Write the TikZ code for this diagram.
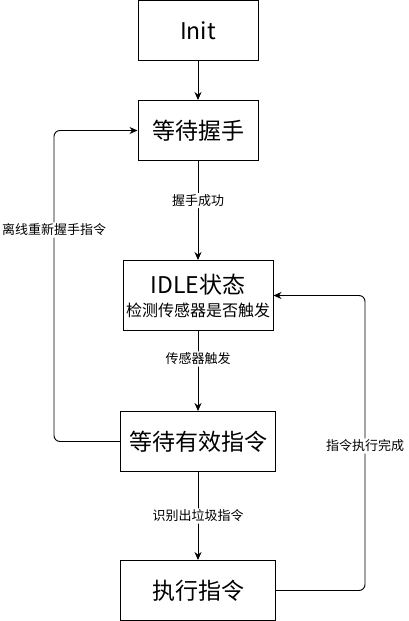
\documentclass[tikz,border=0pt]{standalone}
\usepackage{fontspec}
\setmainfont{Noto Sans CJK SC}
\usetikzlibrary{positioning,arrows.meta}

\tikzset{
  state/.style={draw, line width=1pt, minimum width=120pt, minimum height=60pt,
    inner sep=0pt, align=center, font=\fontsize{23}{27}\selectfont},
  lbl/.style={fill=white, inner sep=1.5pt, font=\fontsize{13}{15}\selectfont},
  flow/.style={-{Stealth[length=8pt,width=7pt]}, line width=0.9pt, rounded corners=6pt},
}

\begin{document}
\begin{tikzpicture}
        \useasboundingbox (0,0) rectangle (409pt,-621pt);

        \node[state] (init) at (198pt,-30.5pt) {Init};
        \node[state, below=39pt of init] (wait) {等待握手};
        \node[state, minimum width=150pt, minimum height=70pt, below=99pt of wait] (idle)
          {IDLE状态\\[-4pt]{\fontsize{16}{19}\selectfont 检测传感器是否触发}};
        \node[state, minimum width=155pt, below=80pt of idle] (cmd) {等待有效指令};
        \node[state, minimum width=155pt, below=88pt of cmd] (exec) {执行指令};

        \draw[flow] (init) -- (wait);
        \draw[flow] (wait) -- node[lbl, pos=0.4] {握手成功} (idle);
        \draw[flow] (idle) -- node[lbl, pos=0.35] {传感器触发} (cmd);
        \draw[flow] (cmd) -- node[lbl] {识别出垃圾指令} (exec);

        % loops back
        \draw[flow] (cmd.west) -- ++(-66pt,0) |- node[lbl, pos=0.34] {离线重新握手指令} (wait.west);
        \draw[flow] (exec.east) -- ++(89pt,0) |- node[lbl, pos=0.245] {指令执行完成} (idle.east);
      \end{tikzpicture}
\end{document}
